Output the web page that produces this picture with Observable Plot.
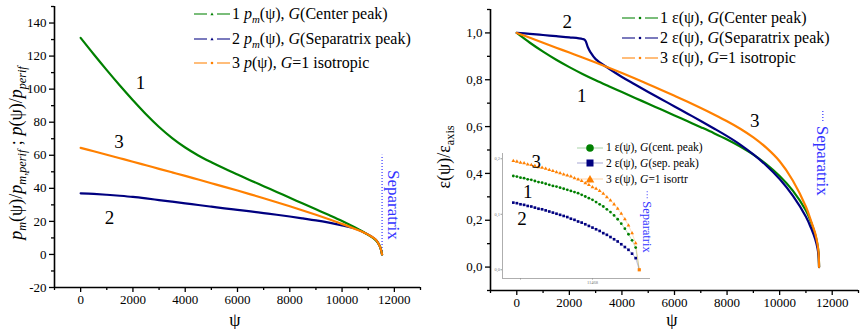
<!DOCTYPE html>
<html><head><meta charset="utf-8">
<script src="https://cdn.jsdelivr.net/npm/d3@7"></script>
<script src="https://cdn.jsdelivr.net/npm/@observablehq/plot@0.6"></script>
<style>
html,body{margin:0;padding:0;background:#fff;}
#wrap{position:relative;width:860px;height:329px;overflow:hidden;font-family:"Liberation Serif","DejaVu Serif","Noto Serif",serif;color:#000;}
.panel{position:absolute;top:0;}
.leg{position:absolute;display:flex;align-items:center;white-space:nowrap;line-height:1;}
.leg svg{flex:none;}
.rot{position:absolute;white-space:nowrap;line-height:1;transform:translate(-50%,-50%) rotate(-90deg);}
.lbl{position:absolute;white-space:nowrap;line-height:1;transform:translate(-50%,-50%);}
sub{font-size:0.68em;vertical-align:-0.35em;line-height:0;}
</style></head><body><div id="wrap"></div>
<script>
// ---------------- data ----------------
const GREEN = "#008000", NAVY = "#000080", ORANGE = "#ff8000", SEPBLUE = "#3333ff";

// left panel: pressure profiles
const psiP    = [0,500,1000,1500,2000,2500,3000,3500,4000,4500,5000,5500,6000,6500,7000,7500,8000,8500,9000,9500,10000,10500,11000,11300,11450,11530];
const pCenter = [131,121.1,111.5,102.2,93.3,84.8,77.1,70.4,64.7,59.9,55.8,52.0,48.4,44.8,41.3,37.8,34.3,30.8,27.3,23.8,20.2,16.3,11.8,8.5,4.8,0];
const pSep    = [37,36.6,36.1,35.5,34.8,33.9,32.9,31.9,30.9,29.9,28.9,27.9,26.95,26.0,25.0,24.0,22.95,21.8,20.6,19.2,17.6,15.7,12.0,8.7,4.7,0];
const pIso    = [64.5,62.4,60.3,58.2,56.1,53.95,51.8,49.65,47.5,45.3,43.1,40.9,38.65,36.35,34.0,31.6,29.15,26.6,24.0,21.3,18.5,15.4,12.0,8.8,4.8,0];

// right panel: epsilon profiles
const psiE    = [0,500,1000,1500,2000,2500,3000,3500,4000,4500,5000,5500,6000,6500,7000,7500,8000,8500,9000,9500,10000,10500,11000,11200,11350,11440,11480,11500];
const eCenter = [1.0,0.958,0.92,0.8855,0.854,0.825,0.798,0.7725,0.7475,0.7225,0.6975,0.6725,0.6475,0.6225,0.5975,0.572,0.545,0.515,0.48,0.439,0.389,0.3265,0.2415,0.19,0.14,0.095,0.06,0];
const eIso    = [1.0,0.979,0.958,0.937,0.916,0.895,0.8735,0.8515,0.829,0.8055,0.781,0.7565,0.7315,0.706,0.6795,0.652,0.623,0.591,0.554,0.509,0.452,0.37,0.2575,0.195,0.145,0.098,0.063,0];
const psiESep = [0,500,1000,1500,2000,2500,2600,2700,2800,3000,3500,4000,4500,5000,5500,6000,6500,7000,7500,8000,8500,9000,9500,10000,10500,11000,11200,11350,11440,11480,11500];
const eSep    = [1.0,0.996,0.991,0.986,0.981,0.974,0.969,0.940,0.918,0.888,0.848,0.812,0.78,0.748,0.717,0.686,0.655,0.624,0.592,0.559,0.523,0.481,0.433,0.376,0.305,0.215,0.165,0.12,0.08,0.048,0];

// inset (zoom near separatrix)
const insetPsi = [11466.90,11466.95,11467.00,11467.05,11467.10,11467.15,11467.20,11467.25,11467.30,11467.35,11467.40,11467.45,11467.50,11467.55,11467.60,11467.65,11467.70,11467.75,11467.80,11467.85,11467.90,11467.95,11468.00,11468.05,11468.10,11468.15,11468.20,11468.25,11468.30,11468.35,11468.40,11468.45,11468.50,11468.55,11468.60];
const insetIso = [0.196,0.195,0.193,0.192,0.190,0.189,0.187,0.185,0.184,0.182,0.180,0.178,0.176,0.174,0.172,0.170,0.168,0.165,0.163,0.160,0.156,0.153,0.149,0.146,0.142,0.137,0.131,0.125,0.118,0.110,0.101,0.091,0.080,0.066,0.048];
const insetCenter = [0.169,0.168,0.166,0.165,0.163,0.162,0.160,0.158,0.157,0.155,0.153,0.151,0.150,0.148,0.146,0.144,0.142,0.140,0.138,0.135,0.132,0.129,0.126,0.122,0.118,0.114,0.109,0.104,0.098,0.091,0.083,0.074,0.064,0.053,0.040];
const insetSep = [0.121,0.120,0.118,0.117,0.115,0.114,0.112,0.110,0.109,0.107,0.105,0.103,0.101,0.099,0.097,0.095,0.092,0.090,0.087,0.085,0.082,0.079,0.076,0.073,0.070,0.066,0.063,0.059,0.055,0.051,0.046,0.041,0.036,0.029,0.021];
const insetEnd = {psi: 11468.65, v: 0};

// ticks
const xMajor = [0,2000,4000,6000,8000,10000,12000];
const xMinor = [-1000,1000,3000,5000,7000,9000,11000,13000];
const pMajor = [-20,0,20,40,60,80,100,120,140];
const pMinor = [-10,10,30,50,70,90,110,130,150];
const eMajor = [0,0.2,0.4,0.6,0.8,1.0];
const eMinor = [-0.1,0.1,0.3,0.5,0.7,0.9,1.1];
const insetYTicks = [0,0.1,0.2];
const insetXTicks = [11467,11468];
const insetXLabels = ["","11468"];

// annotations
const pCurveLabels = [{t:"1",psi:2293,v:104},{t:"3",psi:1465,v:68},{t:"2",psi:1108,v:22}];
const eCurveLabels = [{t:"2",psi:1924,v:1.047},{t:"1",psi:2468,v:0.732},{t:"3",psi:9050,v:0.625}];
const insetCurveLabels = [{t:"3",psi:11467.22,v:0.194},{t:"1",psi:11467.10,v:0.140},{t:"2",psi:11467.02,v:0.092}];
const pSepLine = {psi:11530, v1:0, v2:60};
const pSepText = {psi:11973, v:30};
const eSepDots = {psi:11643, v1:0.622, v2:0.665};
const eSepText = {psi:11643, v:0.454};
const inSepDots = {psi:11468.76, v1:0.128, v2:0.142};
const inSepText = {psi:11468.76, v:0.077};

const legendLeft = [
  {c:GREEN, m:"tri", h:'1 <i>p</i><sub><i>m</i></sub>(ψ), <i>G</i>(Center peak)'},
  {c:NAVY, m:"tri", h:'2 <i>p</i><sub><i>m</i></sub>(ψ), <i>G</i>(Separatrix peak)'},
  {c:ORANGE, m:"dot", h:'3 <i>p</i>(ψ), <i>G</i>=1 isotropic'}];
const legendRight = [
  {c:GREEN, m:"dot", h:'1 ε(ψ), <i>G</i>(Center peak)'},
  {c:NAVY, m:"dot", h:'2 ε(ψ), <i>G</i>(Separatrix peak)'},
  {c:ORANGE, m:"dot", h:'3 ε(ψ), <i>G</i>=1 isotropic'}];
const legendInset = [
  {c:GREEN, m:"circle", h:'1 ε(ψ), <i>G</i>(cent. peak)'},
  {c:NAVY, m:"square", h:'2 ε(ψ), <i>G</i>(sep. peak)'},
  {c:ORANGE, m:"triangle", h:'3 ε(ψ), <i>G</i>=1 isortr'}];

// ---------------- build ----------------
const wrap = document.getElementById("wrap");
const FONT = "'Liberation Serif','DejaVu Serif','Noto Serif',serif";
const CURVE = "catmull-rom";
const series = (xs, ys) => xs.map((x,i)=>({x, y: ys[i]}));

function axisMarks(yMajor, yMinor, yFmt, yMin) {
  return [
    Plot.axisX({ticks: xMajor, tickSize: 5, tickPadding: 2, tickFormat: d=>String(d), label: null, strokeWidth: 1.3, fontSize: 13}),
    Plot.axisX({ticks: xMinor, tickSize: 3, tickFormat: ()=>"", label: null, strokeWidth: 1.3}),
    Plot.axisY({ticks: yMajor, tickSize: 5, tickPadding: 3, tickFormat: yFmt, label: null, strokeWidth: 1.3, fontSize: 13}),
    Plot.axisY({ticks: yMinor, tickSize: 3, tickFormat: ()=>"", label: null, strokeWidth: 1.3}),
    Plot.ruleX([-1000], {strokeWidth: 1.6}),
    Plot.ruleY([yMin], {strokeWidth: 1.6})
  ];
}

const left = Plot.plot({
  width: 430, height: 329,
  marginLeft: 54, marginRight: 10, marginTop: 6, marginBottom: 42,
  x: {domain: [-1000, 13000]},
  y: {domain: [-20, 150]},
  style: {fontFamily: FONT, fontSize: "13px", color: "#000", background: "transparent", overflow: "visible"},
  marks: [
    ...axisMarks(pMajor, pMinor, d=>String(d), -20),
    Plot.ruleX([pSepLine], {x:"psi", y1:"v1", y2:"v2", stroke: SEPBLUE, strokeWidth: 1.2, strokeDasharray: "1,2"}),
    Plot.line(series(psiP, pSep), {x:"x", y:"y", stroke: NAVY, strokeWidth: 2.2, curve: CURVE}),
    Plot.line(series(psiP, pCenter), {x:"x", y:"y", stroke: GREEN, strokeWidth: 2.2, curve: CURVE}),
    Plot.line(series(psiP, pIso), {x:"x", y:"y", stroke: ORANGE, strokeWidth: 2.2, curve: CURVE}),
    Plot.text(pCurveLabels, {x:"psi", y:"v", text:"t", fontSize: 19, fill: "#000"}),
    Plot.text([pSepText], {x:"psi", y:"v", text: ()=>"Separatrix", rotate: 90, fontSize: 17, fill: SEPBLUE})
  ]
});
left.classList.add("panel"); left.style.left = "0px";
wrap.appendChild(left);

const commaFmt = d => d.toFixed(1).replace(".", ",");
const right = Plot.plot({
  width: 430, height: 329,
  marginLeft: 60, marginRight: 2, marginTop: 9, marginBottom: 39,
  x: {domain: [-1000, 13000]},
  y: {domain: [-0.1, 1.1]},
  style: {fontFamily: FONT, fontSize: "13px", color: "#000", background: "transparent", overflow: "visible"},
  marks: [
    ...axisMarks(eMajor, eMinor, commaFmt, -0.1),
    Plot.ruleX([eSepDots], {x:"psi", y1:"v1", y2:"v2", stroke: SEPBLUE, strokeWidth: 1.2, strokeDasharray: "1,2"}),
    Plot.line(series(psiE, eCenter), {x:"x", y:"y", stroke: GREEN, strokeWidth: 2.2, curve: CURVE}),
    Plot.line(series(psiESep, eSep), {x:"x", y:"y", stroke: NAVY, strokeWidth: 2.2, curve: CURVE}),
    Plot.line(series(psiE, eIso), {x:"x", y:"y", stroke: ORANGE, strokeWidth: 2.2, curve: CURVE}),
    Plot.text(eCurveLabels, {x:"psi", y:"v", text:"t", fontSize: 19, fill: "#000"}),
    Plot.text([eSepText], {x:"psi", y:"v", text: ()=>"Separatrix", rotate: 90, fontSize: 17, fill: SEPBLUE})
  ]
});
right.classList.add("panel"); right.style.left = "430px";
wrap.appendChild(right);

// inset
const inset = Plot.plot({
  width: 165, height: 137,
  marginLeft: 12, marginRight: 5, marginTop: 6, marginBottom: 6,
  x: {domain: [11466.75, 11468.806]},
  y: {domain: [-0.0157, 0.2095]},
  style: {fontFamily: FONT, fontSize: "5px", color: "#777", background: "transparent", overflow: "visible"},
  marks: [
    Plot.axisY({ticks: insetYTicks, tickSize: 1.5, tickPadding: 1, tickFormat: commaFmt, label: null, fontSize: 4.5, stroke: "#999"}),
    Plot.axisX({ticks: insetXTicks, tickSize: 1.5, tickPadding: 1, tickFormat: (d,i)=>insetXLabels[i], label: null, fontSize: 4.5, stroke: "#999"}),
    Plot.ruleX([11466.75], {stroke: "#999", strokeWidth: 0.8}),
    Plot.ruleY([-0.0157], {stroke: "#999", strokeWidth: 0.8}),
    Plot.ruleX([inSepDots], {x:"psi", y1:"v1", y2:"v2", stroke: SEPBLUE, strokeWidth: 1, strokeDasharray: "1,2"}),
    Plot.line([...series(insetPsi, insetCenter), {x: insetEnd.psi, y: insetEnd.v}], {x:"x", y:"y", stroke: GREEN, strokeWidth: 0.5, strokeOpacity: 0.5}),
    Plot.line([...series(insetPsi, insetSep), {x: insetEnd.psi, y: insetEnd.v}], {x:"x", y:"y", stroke: NAVY, strokeWidth: 0.5, strokeOpacity: 0.5}),
    Plot.line([...series(insetPsi, insetIso), {x: insetEnd.psi, y: insetEnd.v}], {x:"x", y:"y", stroke: ORANGE, strokeWidth: 0.5, strokeOpacity: 0.5}),
    Plot.dot(series(insetPsi, insetIso), {x:"x", y:"y", symbol: "triangle", r: 1.4, fill: ORANGE, stroke: null}),
    Plot.dot(series(insetPsi, insetCenter), {x:"x", y:"y", symbol: "circle", r: 1.4, fill: GREEN, stroke: null}),
    Plot.dot(series(insetPsi, insetSep), {x:"x", y:"y", symbol: "square", r: 1.5, fill: NAVY, stroke: null}),
    Plot.dot([insetEnd], {x:"psi", y:"v", symbol: "square", r: 1.8, fill: ORANGE, stroke: null}),
    Plot.text(insetCurveLabels, {x:"psi", y:"v", text:"t", fontSize: 19, fill: "#000"}),
    Plot.text([inSepText], {x:"psi", y:"v", text: ()=>"Separatrix", rotate: 90, fontSize: 12.5, fill: SEPBLUE})
  ]
});
inset.classList.add("panel"); inset.style.left = "490px"; inset.style.top = "147px";
wrap.appendChild(inset);

// legends
function dashSym(c, m, w) {
  const mk = m === "tri"
    ? `<path d="M${w/2-1.6},6.3 L${w/2+1.6},6.3 L${w/2},3.6 Z" fill="${c}"/>`
    : `<circle cx="${w/2}" cy="5" r="1.3" fill="${c}"/>`;
  return `<svg width="${w}" height="10"><line x1="0" y1="5" x2="${w/2-5}" y2="5" stroke="${c}" stroke-opacity="0.75" stroke-width="1.4"/>` +
    `<line x1="${w/2+5}" y1="5" x2="${w}" y2="5" stroke="${c}" stroke-opacity="0.75" stroke-width="1.4"/>${mk}</svg>`;
}
function markSym(c, m, w) {
  let mk;
  if (m === "circle") mk = `<circle cx="${w/2}" cy="7" r="3.8" fill="${c}"/>`;
  else if (m === "square") mk = `<rect x="${w/2-3.5}" y="3.5" width="7" height="7" fill="${c}"/>`;
  else mk = `<path d="M${w/2-4.3},10.5 L${w/2+4.3},10.5 L${w/2},3 Z" fill="${c}"/>`;
  return `<svg width="${w}" height="14"><line x1="0" y1="7" x2="${w}" y2="7" stroke="${c}" stroke-opacity="0.35" stroke-width="1"/>${mk}</svg>`;
}
function addLegend(items, x, ys, symFn, w, fs, gap) {
  items.forEach((it, i) => {
    const d = document.createElement("div");
    d.className = "leg";
    d.style.left = x + "px"; d.style.top = (ys[i] - 9) + "px"; d.style.height = "18px";
    d.style.fontSize = fs + "px";
    d.innerHTML = symFn(it.c, it.m, w) + `<span style="margin-left:${gap}px">${it.h}</span>`;
    wrap.appendChild(d);
  });
}
addLegend(legendLeft, 194, [14, 39.3, 63.3], dashSym, 36, 16, 2);
addLegend(legendRight, 622, [18.3, 38.3, 57.7], dashSym, 36, 16, 2);
addLegend(legendInset, 577, [147.7, 163.3, 179.3], markSym, 26, 11.5, 3);

// axis titles
function addDiv(cls, x, y, fs, html) {
  const d = document.createElement("div");
  d.className = cls; d.style.left = x + "px"; d.style.top = y + "px"; d.style.fontSize = fs + "px";
  d.innerHTML = html; wrap.appendChild(d);
}
addDiv("rot", 16, 153, 18, '<i>p</i><sub><i>m</i></sub>(ψ)/<i>p</i><sub><i>m,perif</i></sub> ; <i>p</i>(ψ)/<i>p</i><sub><i>perif</i></sub>');
addDiv("rot", 444, 157, 18, 'ε(ψ)/ε<sub>axis</sub>');
addDiv("lbl", 235, 320, 18, 'ψ');
addDiv("lbl", 672, 320, 18, 'ψ');
</script></body></html>
